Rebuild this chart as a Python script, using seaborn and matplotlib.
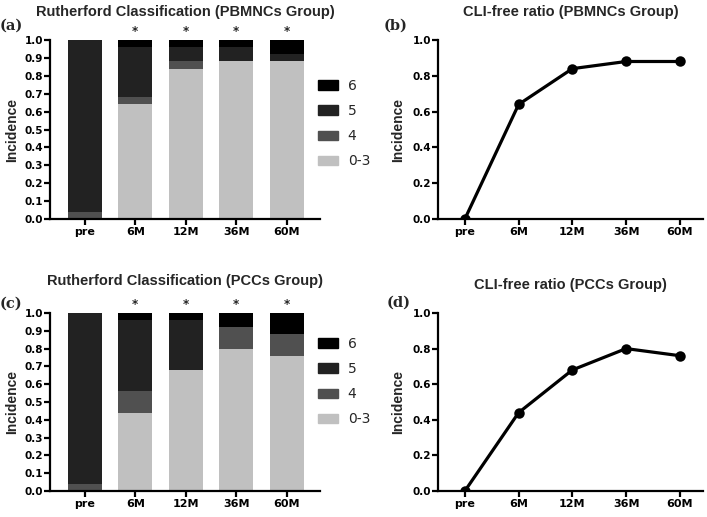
import numpy as np
import seaborn as sns
import matplotlib.pyplot as plt
from matplotlib.patches import Patch

months = ['pre', '6M', '12M', '36M', '60M']
grades = ['0-3', '4', '5', '6']

# Rutherford classification shares (PBMNCs group)
pbmnc_03 = [0.00, 0.64, 0.84, 0.88, 0.88]
pbmnc_4 = [0.04, 0.04, 0.04, 0.00, 0.00]
pbmnc_5 = [0.96, 0.28, 0.08, 0.08, 0.04]
pbmnc_6 = [0.00, 0.04, 0.04, 0.04, 0.08]

# Rutherford classification shares (PCCs group)
pcc_03 = [0.00, 0.44, 0.68, 0.80, 0.76]
pcc_4 = [0.04, 0.12, 0.00, 0.12, 0.12]
pcc_5 = [0.96, 0.40, 0.28, 0.00, 0.00]
pcc_6 = [0.00, 0.04, 0.04, 0.08, 0.12]

# CLI-free ratio
cli_pbmnc = [0.00, 0.64, 0.84, 0.88, 0.88]
cli_pcc = [0.00, 0.44, 0.68, 0.80, 0.76]

stars = ['', '*', '*', '*', '*']

grade_colors = {'0-3': '#c0c0c0', '4': '#505050', '5': '#222222', '6': '#000000'}

sns.set_style('ticks')
plt.rcParams['font.family'] = ['DejaVu Sans']
plt.rcParams['axes.linewidth'] = 1.6
plt.rcParams['xtick.major.width'] = 1.6
plt.rcParams['ytick.major.width'] = 1.6
plt.rcParams['xtick.major.size'] = 4
plt.rcParams['ytick.major.size'] = 4
plt.rcParams['xtick.color'] = 'black'
plt.rcParams['ytick.color'] = 'black'
plt.rcParams['axes.edgecolor'] = 'black'

fig = plt.figure(figsize=(7.07, 5.17), dpi=100)

title_font = dict(family='Liberation Sans', fontsize=10.5, fontweight='bold')
label_font = dict(family='Liberation Sans', fontsize=10, fontweight='bold')

def style_axes(ax, label_x):
    sns.despine(ax=ax)
    ax.tick_params(axis='x', labelsize=8, pad=2)
    ax.tick_params(axis='y', labelsize=7.5, pad=1)
    for lab in ax.get_xticklabels() + ax.get_yticklabels():
        lab.set_fontweight('bold')
    ax.set_ylabel('Incidence', **label_font)
    ax.yaxis.set_label_coords(label_x, 0.5)
    ax.set_xlabel('')

def stacked(ax, parts, title, pad):
    cum = np.cumsum(np.array(parts), axis=0)
    # draw cumulative bars from the top grade down so each covers the next
    for i in range(len(grades) - 1, -1, -1):
        sns.barplot(x=months, y=cum[i], color=grade_colors[grades[i]], width=0.67,
                    saturation=1, linewidth=0, ax=ax)
    ax.set_ylim(0, 1.0)
    ax.set_xlim(-0.69, 4.66)
    ticks = np.arange(0, 1.01, 0.1)
    ax.set_yticks(ticks)
    ax.set_yticklabels([f'{v:.1f}' for v in ticks])
    for i, s in enumerate(stars):
        ax.text(i, 1.012, s, ha='center', va='bottom', fontsize=8.5, fontweight='bold',
                clip_on=False)
    style_axes(ax, -0.113)
    ax.set_title(title, pad=pad, **title_font)

def ratio(ax, vals, title, pad):
    sns.pointplot(x=months, y=vals, color='black', errorbar=None, markersize=5.8,
                  linewidth=2.3, ax=ax)
    ax.set_ylim(0, 1.0)
    ax.set_xlim(-0.5, 4.43)
    ticks = np.arange(0, 1.01, 0.2)
    ax.set_yticks(ticks)
    ax.set_yticklabels([f'{v:.1f}' for v in ticks])
    style_axes(ax, -0.125)
    ax.set_title(title, pad=pad, **title_font)

ax_a = fig.add_axes([0.0707, 0.5764, 0.382, 0.3462])
ax_b = fig.add_axes([0.6195, 0.5764, 0.3748, 0.3462])
ax_c = fig.add_axes([0.0707, 0.0503, 0.382, 0.3443])
ax_d = fig.add_axes([0.6195, 0.0503, 0.3748, 0.3443])

stacked(ax_a, [pbmnc_03, pbmnc_4, pbmnc_5, pbmnc_6],
        'Rutherford Classification (PBMNCs Group)', 17)
ratio(ax_b, cli_pbmnc, 'CLI-free ratio (PBMNCs Group)', 17)
stacked(ax_c, [pcc_03, pcc_4, pcc_5, pcc_6],
        'Rutherford Classification (PCCs Group)', 20)
ratio(ax_d, cli_pcc, 'CLI-free ratio (PCCs Group)', 17)

for tag, x, y in [('(a)', 0.0, 0.963), ('(b)', 0.542, 0.963),
                  ('(c)', 0.0, 0.4255), ('(d)', 0.547, 0.429)]:
    fig.text(x, y, tag, family='DejaVu Serif', fontsize=10.5, fontweight='bold',
             ha='left', va='top')

handles = [Patch(color=grade_colors[g]) for g in grades[::-1]]
for ycen in [0.761, 0.262]:
    fig.legend(handles, grades[::-1], loc='center left', bbox_to_anchor=(0.432, ycen),
               frameon=False, handlelength=1.45, handleheight=0.65,
               labelspacing=0.8, handletextpad=0.7, prop={'weight': 'normal', 'size': 10})

fig.savefig('out.png', dpi=100)
